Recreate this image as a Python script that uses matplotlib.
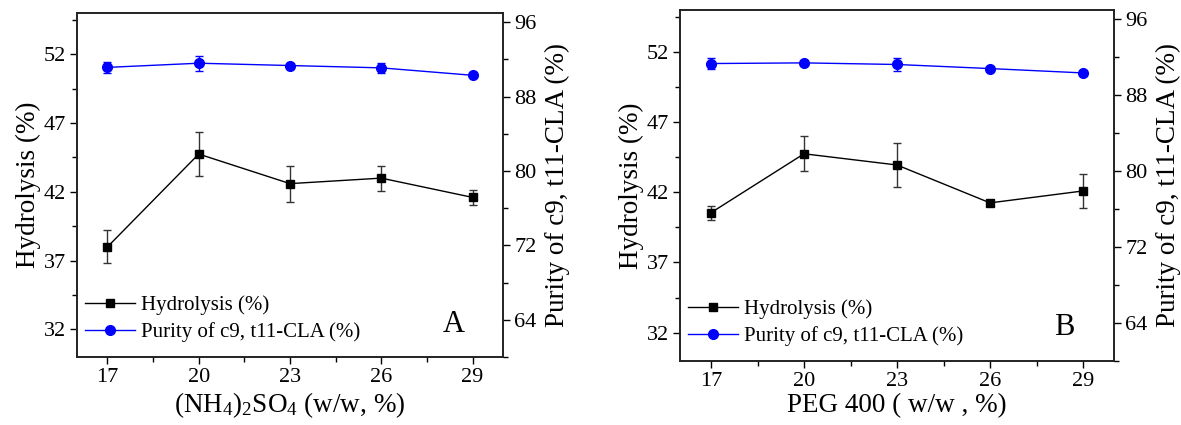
import numpy as np
import matplotlib
matplotlib.use('Agg')
import matplotlib.pyplot as plt
from matplotlib.ticker import AutoMinorLocator


# data

conc = [17, 20, 23, 26, 29]

hydro_a = [38.0, 44.75, 42.6, 43.0, 41.6]
hydro_a_err = [1.2, 1.6, 1.3, 0.9, 0.55]
purity_a = [91.15, 91.6, 91.35, 91.1, 90.3]
purity_a_err = [0.55, 0.8, 0.2, 0.57, 0.2]

hydro_b = [40.55, 44.75, 43.95, 41.25, 42.1]
hydro_b_err = [0.5, 1.25, 1.6, 0.2, 1.2]
purity_b = [91.35, 91.42, 91.25, 90.82, 90.36]
purity_b_err = [0.55, 0.2, 0.65, 0.2, 0.2]

xlabels = ['(NH$_{4}$)$_{2}$SO$_{4}$ (w/w, %)', 'PEG 400 ( w/w , %)']
panel_tags = ['A', 'B']


plt.rcParams['font.family'] = ['Liberation Serif', 'DejaVu Serif']
plt.rcParams['mathtext.fontset'] = 'custom'
plt.rcParams['mathtext.rm'] = 'Liberation Serif'
plt.rcParams['mathtext.it'] = 'Liberation Serif:italic'
plt.rcParams['axes.linewidth'] = 1.2
plt.rcParams['axes.edgecolor'] = '#222222'

fig = plt.figure(figsize=(11.81, 4.25), dpi=100)

# axes boxes measured in pixels off the reference
boxes = [[0.0652, 0.160, 0.3607, 0.8094],
         [0.5758, 0.1513, 0.3675, 0.8252]]

series = [(hydro_a, hydro_a_err, purity_a, purity_a_err),
          (hydro_b, hydro_b_err, purity_b, purity_b_err)]

for i in range(2):
    hy, hy_err, pu, pu_err = series[i]

    ax = fig.add_axes(boxes[i])
    ax2 = ax.twinx()

    l1 = ax.errorbar(conc, hy, yerr=hy_err, color='k', marker='s', markersize=6,
                     lw=1, ecolor='#333333', elinewidth=1, capsize=3, capthick=1)
    l2 = ax2.errorbar(conc, pu, yerr=pu_err, color='#0000ff', marker='o', markersize=7,
                      lw=1, ecolor='#0000ff', elinewidth=1, capsize=3, capthick=1)

    ax.set_xlim(16, 30)
    ax.set_ylim(30, 55)
    ax2.set_ylim(60, 97)

    ax.set_xticks(conc)
    ax.xaxis.set_minor_locator(AutoMinorLocator(2))
    ax.set_yticks([32, 37, 42, 47, 52])
    ax.yaxis.set_minor_locator(AutoMinorLocator(2))
    ax2.set_yticks([64, 72, 80, 88, 96])
    ax2.yaxis.set_minor_locator(AutoMinorLocator(2))

    for a in (ax, ax2):
        a.tick_params(which='major', direction='out', length=5, width=1, labelsize=16, pad=3)
        a.tick_params(which='minor', direction='out', length=3.5, width=1)
    ax.tick_params(axis='x', which='both', top=False)
    ax2.tick_params(axis='y', which='both', left=False)

    ax.set_xlabel(xlabels[i], fontsize=19.5, labelpad=2)
    ax.set_ylabel('Hydrolysis (%)', fontsize=19.5, labelpad=2)
    ax2.set_ylabel('Purity of c9, t11-CLA (%)', fontsize=19.5, labelpad=6)

    # legend shows plain line + marker, no error bars
    ax.legend([l1[0], l2[0]], ['Hydrolysis (%)', 'Purity of c9, t11-CLA (%)'],
              loc='lower left', bbox_to_anchor=(-0.015, 0.0), frameon=False,
              fontsize=15, handlelength=2.4, handletextpad=0.3, labelspacing=0.35,
              borderaxespad=0.3)

    ax.text(0.885, 0.095, panel_tags[i], transform=ax.transAxes, fontsize=22,
            ha='center', va='center')

plt.savefig('out.png', dpi=100)
